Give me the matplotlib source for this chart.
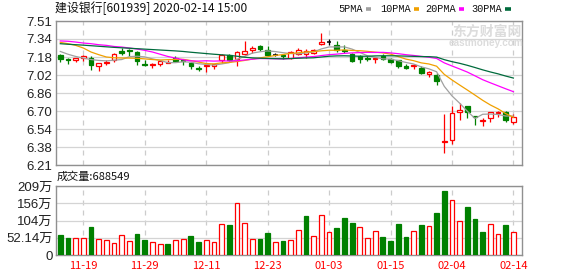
import numpy as np
import matplotlib
matplotlib.use("Agg")
from matplotlib import pyplot as plt
from matplotlib.patches import Rectangle
from matplotlib.lines import Line2D

# trading days shown (MM-DD)
dates = ["11-14", "11-15", "11-18", "11-19", "11-20", "11-21", "11-22", "11-25", "11-26", "11-27",
         "11-28", "11-29", "12-02", "12-03", "12-04", "12-05", "12-06", "12-09", "12-10", "12-11",
         "12-12", "12-13", "12-16", "12-17", "12-18", "12-19", "12-20", "12-23", "12-24", "12-25",
         "12-26", "12-27", "12-30", "12-31", "01-02", "01-03", "01-06", "01-07", "01-08", "01-09",
         "01-10", "01-13", "01-14", "01-15", "01-16", "01-17", "01-20", "01-21", "01-22", "01-23",
         "02-03", "02-04", "02-05", "02-06", "02-07", "02-10", "02-11", "02-12", "02-13", "02-14"]

opens = [7.20, 7.17, 7.16, 7.18, 7.18, 7.10, 7.13, 7.16, 7.24, 7.25,
         7.23, 7.12, 7.11, 7.12, 7.13, 7.18, 7.16, 7.13, 7.09, 7.10,
         7.10, 7.16, 7.20, 7.17, 7.21, 7.25, 7.28, 7.25, 7.20, 7.20,
         7.18, 7.21, 7.21, 7.22, 7.30, 7.32, 7.29, 7.25, 7.21, 7.19,
         7.18, 7.17, 7.19, 7.17, 7.16, 7.10, 7.10, 7.09, 7.03, 7.02,
         6.42, 6.44, 6.69, 6.74, 6.65, 6.61, 6.63, 6.68, 6.69, 6.60]
highs = [7.21, 7.18, 7.18, 7.20, 7.19, 7.13, 7.16, 7.22, 7.27, 7.26,
         7.24, 7.16, 7.13, 7.15, 7.16, 7.19, 7.17, 7.14, 7.10, 7.12,
         7.12, 7.21, 7.21, 7.24, 7.33, 7.28, 7.29, 7.28, 7.22, 7.21,
         7.24, 7.27, 7.26, 7.26, 7.40, 7.35, 7.33, 7.29, 7.22, 7.20,
         7.19, 7.18, 7.21, 7.18, 7.16, 7.12, 7.12, 7.10, 7.06, 7.04,
         6.67, 6.74, 6.77, 6.74, 6.65, 6.63, 6.69, 6.70, 6.70, 6.67]
lows = [7.14, 7.12, 7.14, 7.15, 7.07, 7.06, 7.11, 7.14, 7.20, 7.19,
        7.11, 7.10, 7.09, 7.10, 7.13, 7.14, 7.11, 7.08, 7.06, 7.05,
        7.08, 7.13, 7.15, 7.10, 7.20, 7.22, 7.24, 7.19, 7.19, 7.17,
        7.17, 7.20, 7.18, 7.21, 7.29, 7.29, 7.23, 7.22, 7.14, 7.13,
        7.15, 7.13, 7.16, 7.13, 7.09, 7.08, 7.08, 7.03, 7.00, 6.93,
        6.32, 6.40, 6.62, 6.63, 6.57, 6.56, 6.60, 6.64, 6.60, 6.58]
closes = [7.17, 7.16, 7.18, 7.19, 7.11, 7.13, 7.14, 7.21, 7.22, 7.24,
          7.15, 7.11, 7.12, 7.15, 7.14, 7.15, 7.15, 7.10, 7.08, 7.11,
          7.12, 7.20, 7.16, 7.23, 7.24, 7.27, 7.26, 7.20, 7.20, 7.19,
          7.23, 7.25, 7.24, 7.25, 7.32, 7.32, 7.25, 7.24, 7.15, 7.17,
          7.17, 7.18, 7.17, 7.14, 7.10, 7.09, 7.11, 7.04, 7.05, 6.97,
          6.43, 6.68, 6.71, 6.69, 6.64, 6.62, 6.69, 6.69, 6.62, 6.64]
prev_close = 7.19

# volume in 万 (10k)
volume = [60.5, 51.4, 50.4, 50.4, 84.6, 47.4, 45.3, 35.3, 59.4, 41.3,
          63.5, 45.3, 38.3, 33.2, 33.2, 45.3, 47.4, 57.4, 39.3, 44.3,
          39.3, 93.7, 90.7, 156.2, 95.7, 47.4, 48.4, 66.5, 39.3, 42.3,
          45.3, 75.6, 117.9, 57.4, 120.9, 69.5, 81.6, 111.8, 96.7, 84.6,
          50.4, 72.5, 54.4, 42.3, 93.7, 54.4, 72.5, 90.7, 87.7, 126.9,
          193.4, 166.2, 102.8, 145.1, 108.8, 69.5, 93.7, 63.5, 90.7, 68.8549]

ma5 = [7.235, 7.21, 7.19, 7.175, 7.162, 7.154, 7.15, 7.156, 7.162, 7.188,
       7.192, 7.186, 7.168, 7.154, 7.134, 7.134, 7.142, 7.138, 7.124, 7.118,
       7.112, 7.122, 7.134, 7.164, 7.19, 7.22, 7.232, 7.24, 7.234, 7.224,
       7.216, 7.214, 7.222, 7.232, 7.258, 7.276, 7.276, 7.276, 7.256, 7.226,
       7.196, 7.182, 7.168, 7.166, 7.152, 7.136, 7.122, 7.096, 7.078, 7.052,
       6.92, 6.834, 6.768, 6.696, 6.63, 6.668, 6.67, 6.666, 6.652, 6.652]
ma10 = [7.317, 7.305, 7.29, 7.266, 7.23, 7.206, 7.185, 7.178, 7.176, 7.175,
        7.173, 7.168, 7.162, 7.158, 7.161, 7.163, 7.164, 7.153, 7.139, 7.126,
        7.123, 7.132, 7.136, 7.144, 7.154, 7.166, 7.177, 7.187, 7.199, 7.207,
        7.218, 7.223, 7.231, 7.233, 7.241, 7.246, 7.245, 7.249, 7.244, 7.242,
        7.236, 7.229, 7.222, 7.211, 7.189, 7.166, 7.152, 7.132, 7.122, 7.102,
        7.028, 6.978, 6.932, 6.887, 6.841, 6.794, 6.752, 6.717, 6.674, 6.641]
ma20 = [7.33, 7.327, 7.32, 7.311, 7.305, 7.296, 7.29, 7.28, 7.275, 7.266,
        7.257, 7.245, 7.23, 7.21, 7.19, 7.175, 7.16, 7.15, 7.148, 7.151,
        7.148, 7.15, 7.149, 7.151, 7.158, 7.165, 7.171, 7.17, 7.169, 7.167,
        7.171, 7.178, 7.184, 7.189, 7.198, 7.206, 7.211, 7.218, 7.222, 7.225,
        7.227, 7.226, 7.227, 7.222, 7.215, 7.206, 7.199, 7.191, 7.183, 7.172,
        7.132, 7.104, 7.077, 7.049, 7.015, 6.98, 6.952, 6.925, 6.898, 6.872]
ma30 = [7.305, 7.30, 7.296, 7.292, 7.287, 7.282, 7.277, 7.272, 7.268, 7.264,
        7.26, 7.256, 7.252, 7.248, 7.244, 7.24, 7.235, 7.228, 7.222, 7.216,
        7.21, 7.205, 7.20, 7.192, 7.183, 7.177, 7.174, 7.172, 7.17, 7.169,
        7.171, 7.174, 7.176, 7.178, 7.185, 7.192, 7.195, 7.196, 7.194, 7.192,
        7.192, 7.195, 7.196, 7.196, 7.195, 7.193, 7.191, 7.189, 7.188, 7.184,
        7.161, 7.143, 7.128, 7.110, 7.090, 7.069, 7.050, 7.033, 7.013, 6.995]

price_labels = ["6.21", "6.38", "6.54", "6.70", "6.86", "7.02", "7.18", "7.34", "7.51"]
vol_labels = ["0", "52.14万", "104万", "156万", "209万"]
tick_dates = ["11-19", "11-29", "12-11", "12-23", "01-03", "01-15", "02-04", "02-14"]
ma_names = ["5PMA", "10PMA", "20PMA", "30PMA"]

RED = "#ff0000"
GREEN = "#008000"
ma_colors = ["#a0a0a0", "#f0a000", "#ff00ff", "#006b3c"]
CJK = ["Noto Sans CJK SC", "DejaVu Sans"]

W, H = 578, 276
fig = plt.figure(figsize=(W / 100, H / 100), dpi=100)
ax = fig.add_axes([56 / W, 1 - 165 / H, 466 / W, 144 / H])
axv = fig.add_axes([56 / W, 1 - 255 / H, 466 / W, 69 / H])

n = len(closes)
x = np.arange(n)
prev = [prev_close] + closes[:-1]
xticks = [dates.index(d) for d in tick_dates]

for a in (ax, axv):
    a.set_xlim(-0.56, n + 0.12)
    a.set_xticks(xticks)
    a.tick_params(length=0, labelsize=9.5, labelcolor="#222222", pad=2.5)
    a.xaxis.grid(True, color="#cccccc", lw=0.9, ls=(0, (4, 4)))
    a.yaxis.grid(True, color="#d4d4d4", lw=0.9)
    a.set_axisbelow(True)
    for s in a.spines.values():
        s.set_color("#909090")
        s.set_linewidth(1)

# price panel
ax.set_ylim(6.21, 7.51)
ax.set_yticks(np.linspace(6.21, 7.51, len(price_labels)))
ax.set_yticklabels(price_labels, family="Liberation Sans")
ax.set_xticklabels([])

for i in range(n):
    o, hi, lo, c = opens[i], highs[i], lows[i], closes[i]
    if c > o:
        col, fill = RED, "white"
    elif c < o:
        col, fill = GREEN, GREEN
    else:
        col = RED if c > prev[i] else (GREEN if c < prev[i] else "black")
        fill = col
    ax.vlines(i, lo, hi, color=col, lw=0.9, zorder=3)
    if c == o:
        ax.hlines(c, i - 0.3, i + 0.3, color=col, lw=1.1, zorder=4)
    else:
        ax.add_patch(Rectangle((i - 0.3, min(o, c)), 0.6, abs(c - o),
                               facecolor=fill, edgecolor=col, lw=0.9, zorder=4))

for ma, col in zip([ma5, ma10, ma20, ma30], ma_colors):
    ax.plot(x, ma, color=col, lw=0.9, zorder=5)

# watermark
fig.text(522 / W, 1 - 32 / H, "东方财富网", family=CJK, fontsize=10, fontweight="bold",
         color="#dcdcdc", ha="right", va="center", zorder=0)
fig.text(523 / W, 1 - 43.5 / H, "eastmoney.com", family="Liberation Sans", fontsize=7.2,
         fontweight="bold", color="#dcdcdc", ha="right", va="center", zorder=0)

# volume panel
vmax = 208.56
axv.set_ylim(0, vmax)
axv.set_yticks(np.linspace(0, vmax, len(vol_labels)))
axv.set_yticklabels(vol_labels, family=["Liberation Sans", "Noto Sans CJK SC"])
axv.set_xticklabels(tick_dates, family=CJK, fontsize=8, color=RED)
axv.tick_params(axis="x", pad=4)

vcol = [RED if closes[i] >= prev[i] else GREEN for i in range(n)]
vfill = ["white" if c == RED else GREEN for c in vcol]
axv.bar(x, volume, width=0.62, color=vfill, edgecolor=vcol, linewidth=0.9, zorder=3)

# header texts
fig.text(55 / W, 1 - 8 / H, "建设银行[601939] 2020-02-14 15:00", family=CJK, fontsize=8.6,
         color="#111111", va="center")
fig.text(57 / W, 1 - 177 / H, "成交量:%d" % round(volume[-1] * 10000),
         family=CJK, fontsize=8, color="#111111", va="center")

# legend
legend_x = [338, 380, 425, 471.5]
for name, col, lx in zip(ma_names, ma_colors, legend_x):
    fig.text(lx / W, 1 - 8.5 / H, name, family="Liberation Mono", fontsize=7.4,
             color="#111111", va="center")
    mx = lx + 6.15 * len(name) + 3
    fig.add_artist(Line2D([mx / W, (mx + 5.5) / W], [1 - 8.5 / H, 1 - 8.5 / H],
                          transform=fig.transFigure, color=col, lw=2.6, solid_capstyle="butt"))

fig.savefig("out.png", dpi=100)
